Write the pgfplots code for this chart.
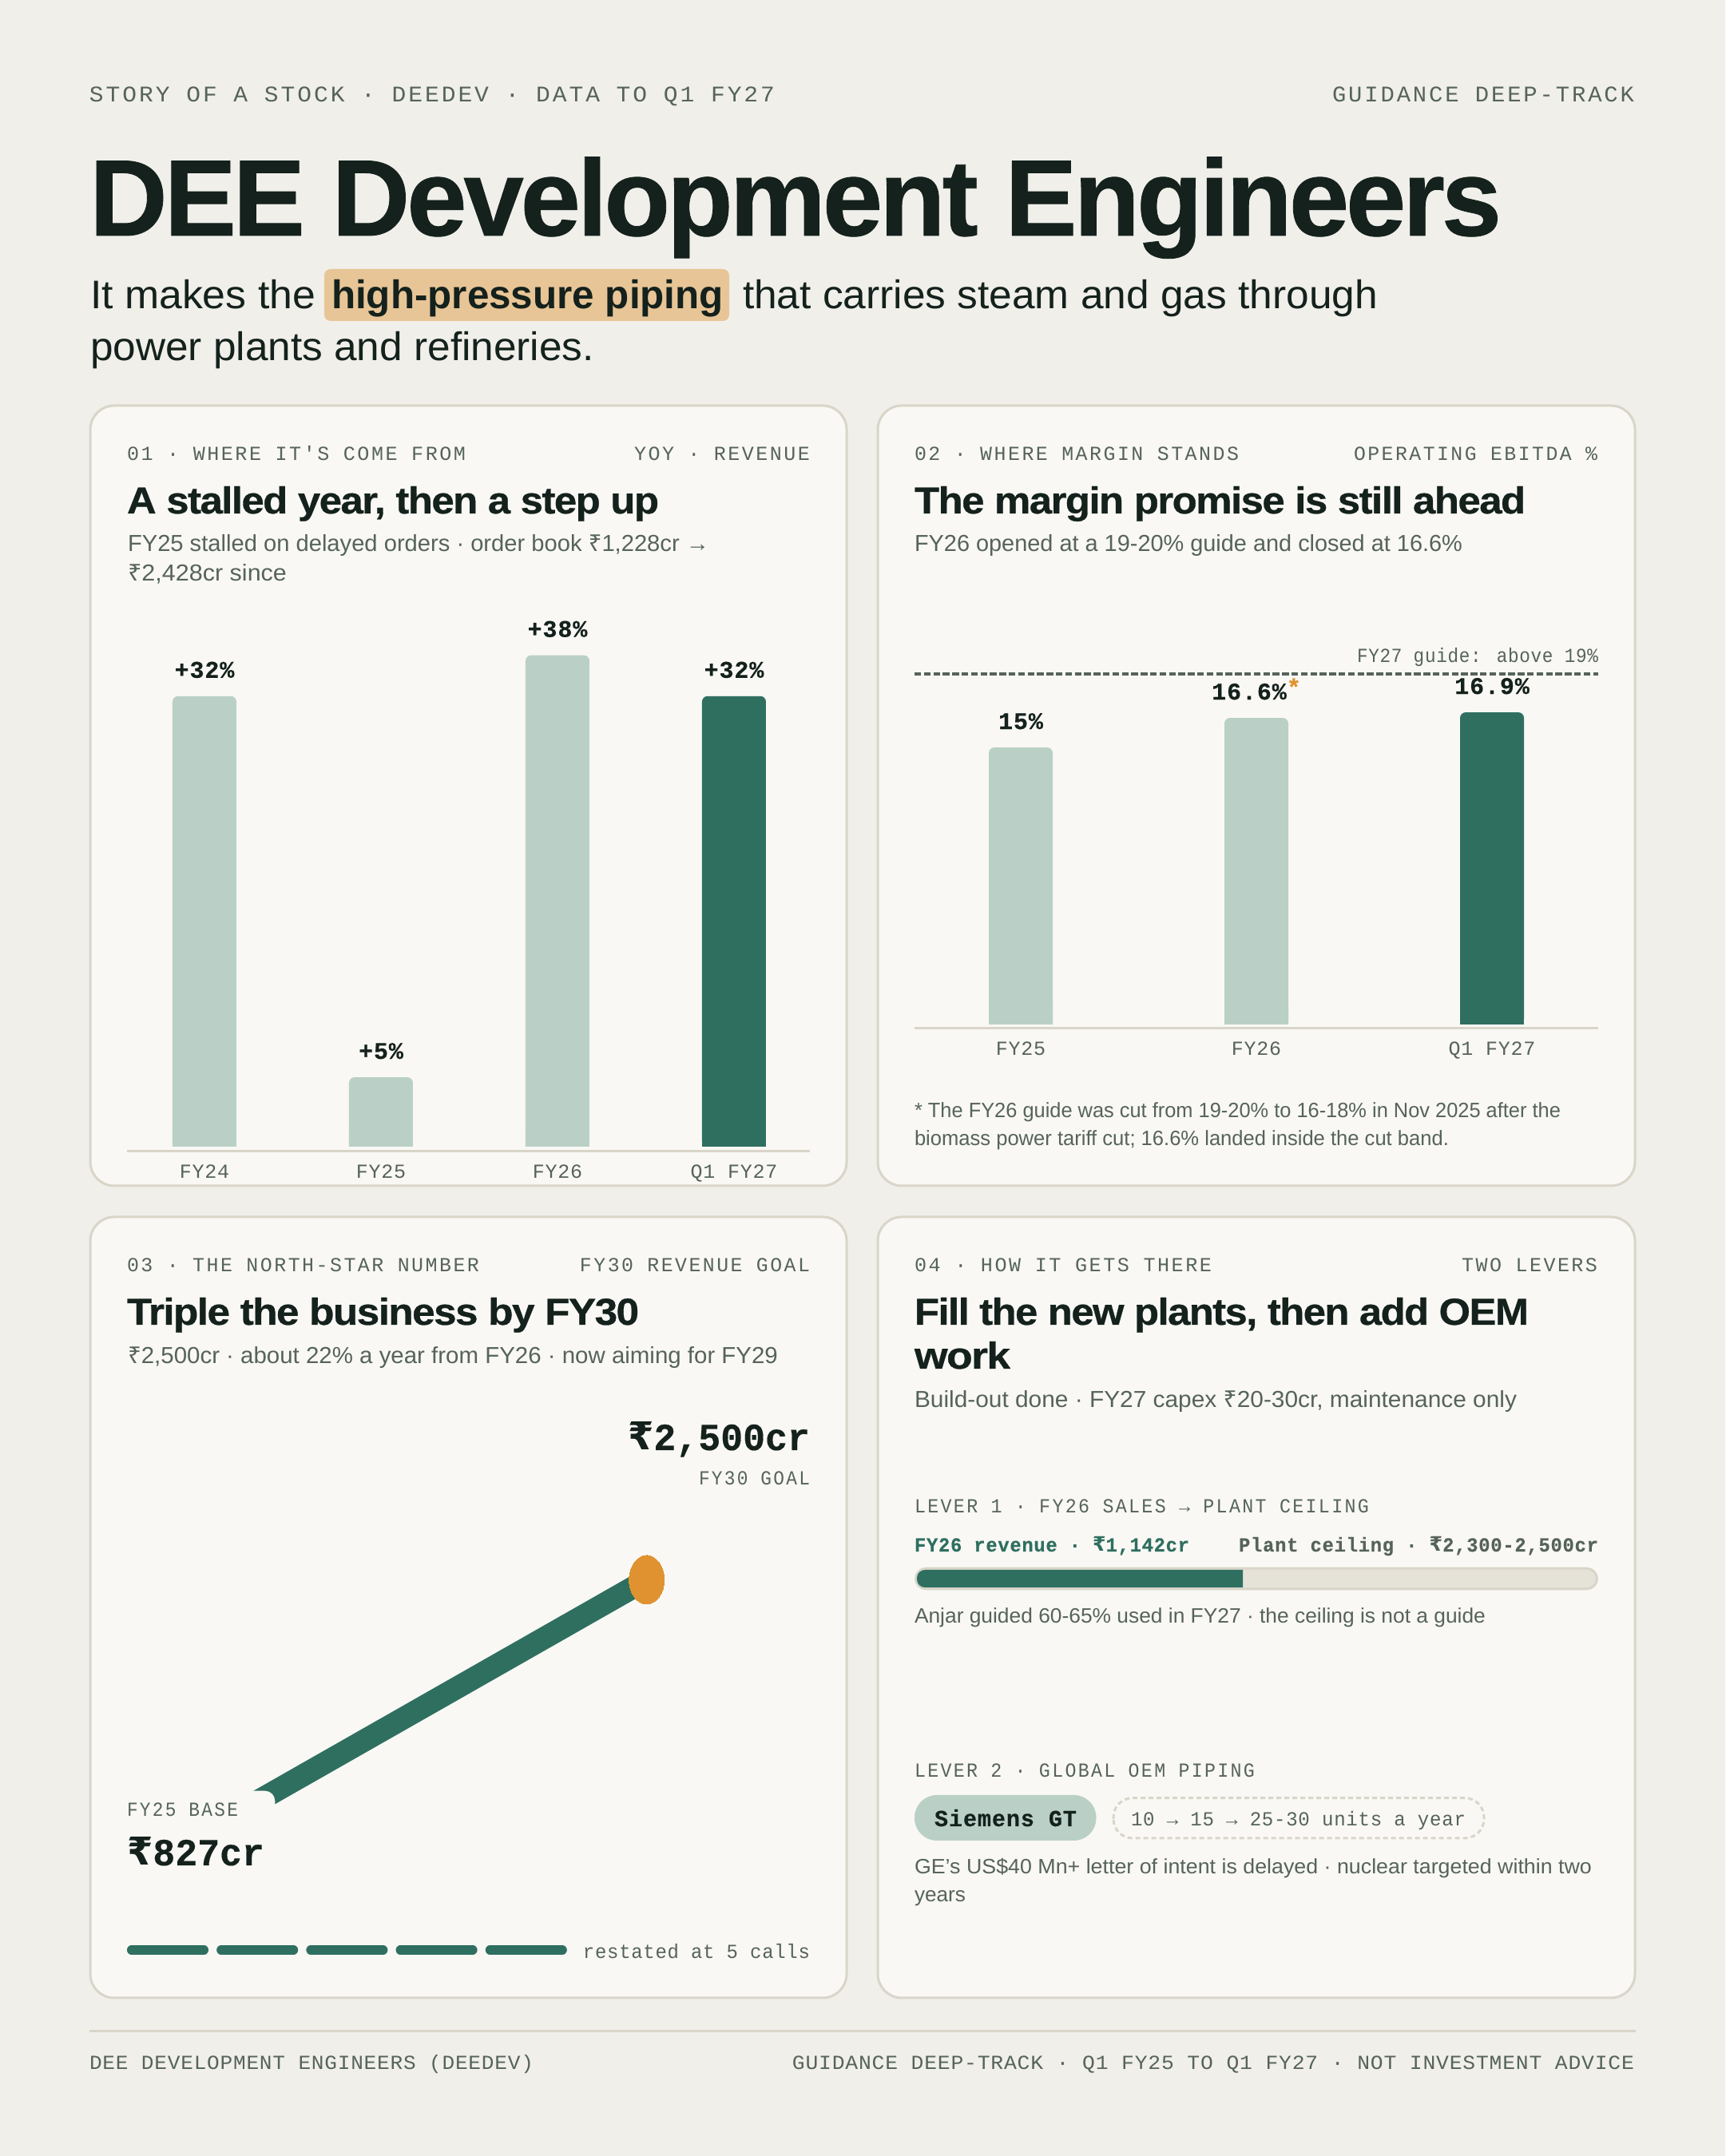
\documentclass[border=0pt]{standalone}
\usepackage{fontspec}
\usepackage{graphicx}
\usepackage{pgfplots}
\pgfplotsset{compat=1.18}
\setmainfont{Liberation Sans}
\newfontfamily\mn[BoldFeatures={FakeBold=0.3}]{Liberation Mono}
\newfontfamily\mnls[LetterSpace=10]{Liberation Mono}
\newfontfamily\mnlt[LetterSpace=3,BoldFeatures={FakeBold=0.3}]{Liberation Mono}
\newfontfamily\ttl[LetterSpace=-3,BoldFeatures={FakeBold=0.6}]{Liberation Sans}
\newfontfamily\rpf{Noto Sans}
\newfontfamily\rpfb{DejaVu Sans}
\newcommand\rs{{\rpf ₹}}
\newcommand\rsb{{\rpfb\bfseries ₹}}
\definecolor{bg}{HTML}{F0EFEA}
\definecolor{card}{HTML}{F9F8F4}
\definecolor{bord}{HTML}{D9D5C9}
\definecolor{ink}{HTML}{14211D}
\definecolor{gry}{HTML}{56635C}
\definecolor{lite}{HTML}{BAD0C7}
\definecolor{deep}{HTML}{2F6F60}
\definecolor{amber}{HTML}{E09230}
\definecolor{hl}{HTML}{E8C596}
\definecolor{trk}{HTML}{E5E3D8}
\newcommand\fs[1]{\fontsize{#1}{#1}\selectfont}
\newcommand\T[7][base west]{\node[anchor=#1,inner sep=0pt,outer sep=0pt,text=#5] at ({#2*0.5pt},{(2700-#3)*0.5pt}) {#4\resizebox{\dimexpr#6pt/2\relax}{\height}{#7}};}
\newcommand\hd{\mnls\fs{12.5pt}}
\newcommand\cardt{\ttl\bfseries\fs{23.5pt}}
\newcommand\sub{\rmfamily\fs{14.5pt}}
\newcommand\nt{\rmfamily\fs{13pt}}
\newcommand\lb{\mnlt\bfseries\fs{15pt}}
\newcommand\cardbox[4]{\draw[fill=card,draw=bord,line width=1.5pt,rounded corners=15pt] ({#1*0.5pt},{(2700-#2)*0.5pt}) rectangle ({#3*0.5pt},{(2700-#4)*0.5pt});}
\newcommand\st{\textcolor{amber}{\raisebox{2.5pt}{\fs{15pt}*}}}
\pgfplotsset{
  barchart/.style={scale only axis,clip=false,axis x line=bottom,axis y line=none,
    axis line style={-,draw=bord,line width=1.5pt},
    major tick length=0pt,tick style={draw=none},
    xticklabel style={font=\mnlt\fs{12.5pt},text=gry,anchor=base,yshift=-17pt},
    ytick=\empty},
  topbar/.style={ybar,bar width=40pt,bar shift=0pt,draw=none,fill=#1,
    rounded corners=3.5pt,
    nodes near coords={\lb\pgfplotspointmeta},
    point meta=explicit symbolic,
    every node near coord/.style={anchor=base,yshift=11.5pt,text=ink,inner sep=0pt,sharp corners}},
  % Not data: a short square-cornered foot, value 1 on every bar, that squares off
  % the lower corners of the rounded bars. It sits inside each bar and shows nowhere.
  foot/.style={ybar,bar width=40pt,bar shift=0pt,draw=none,fill=#1,forget plot},
}
\begin{document}
\begin{tikzpicture}
\useasboundingbox (0pt,0pt) rectangle (1080pt,1350pt);
\fill[bg] (0pt,0pt) rectangle (1080pt,1350pt);
% masthead
\T{112}{128}{\mnls\fs{14pt}}{gry}{858}{STORY OF A STOCK · DEEDEV · DATA TO Q1 FY27}
\T[base east]{2046}{128}{\mnls\fs{14pt}}{gry}{378}{GUIDANCE DEEP-TRACK}
\T{112}{295}{\ttl\bfseries\fs{68pt}}{ink}{1768}{DEE Development Engineers}
\fill[hl,rounded corners=4pt] ({406*0.5pt},{(2700-402)*0.5pt}) rectangle ({913*0.5pt},{(2700-337)*0.5pt});
\T{113}{387}{\rmfamily\fs{25pt}}{ink}{282}{It makes the}
\T{415}{387}{\rmfamily\bfseries\fs{25pt}}{ink}{491}{high-pressure piping}
\T{930}{387}{\rmfamily\fs{25pt}}{ink}{795}{that carries steam and gas through}
\T{113}{452}{\rmfamily\fs{25pt}}{ink}{631}{power plants and refineries.}
% cards
\cardbox{113}{508}{1060}{1485}
\cardbox{1099}{508}{2047}{1485}
\cardbox{113}{1524}{1060}{2502}
\cardbox{1099}{1524}{2047}{2502}
% card 1
\T{159}{576.5}{\hd}{gry}{424}{01 · WHERE IT'S COME FROM}
\T[base east]{1014}{576.5}{\hd}{gry}{220}{YOY · REVENUE}
\T{159}{643}{\cardt}{ink}{666}{A stalled year, then a step up}
\T{160}{691}{\sub}{gry}{728}{FY25 stalled on delayed orders · order book \rs1,228cr →}
\T{160}{728}{\sub}{gry}{199}{\rs2,428cr since}
% Heights are read from the reference, where the bars are not all proportional to their
% labels: +32% and +5% share one scale, but the bar labelled +38% reaches only 34.9 on it.
% The label stays +38% as printed; the height stays as drawn.
\begin{axis}[barchart,at={(79.5pt,629pt)},anchor=south west,width=427.5pt,height=338pt,
  xmin=-0.4389,xmax=3.43,ymin=-0.34,ymax=38,
  xtick={0,1,2,3},xticklabels={FY24,FY25,FY26,Q1 FY27}]
\addplot[topbar=lite] coordinates {(0,32) [+32\%] (1,4.93) [+5\%] (2,34.9) [+38\%]};
\addplot[topbar=deep] coordinates {(3,32) [+32\%]};
\addplot[foot=lite] coordinates {(0,1) (1,1) (2,1)};
\addplot[foot=deep] coordinates {(3,1)};
\end{axis}
% card 2
\T{1145}{576.5}{\hd}{gry}{406}{02 · WHERE MARGIN STANDS}
\T[base east]{2000}{576.5}{\hd}{gry}{305}{OPERATING EBITDA \%}
\T{1145}{643}{\cardt}{ink}{765}{The margin promise is still ahead}
\T{1145}{691}{\sub}{gry}{686}{FY26 opened at a 19-20\% guide and closed at 16.6\%}
\T[base east]{2001}{830}{\mnlt\fs{12.5pt}}{gry}{302}{FY27 guide: above 19\%}
\begin{axis}[barchart,at={(572.5pt,706pt)},anchor=south west,width=428pt,height=233.8pt,
  xmin=-0.4508,xmax=2.4508,ymin=-0.216,ymax=20,
  xtick={0,1,2},xticklabels={FY25,FY26,Q1 FY27}]
\addplot[topbar=lite] coordinates {(0,15) [15\%] (1,16.6) [16.6\%\st]};
\addplot[topbar=deep] coordinates {(2,16.9) [16.9\%]};
\addplot[foot=lite] coordinates {(0,1) (1,1)};
\addplot[foot=deep] coordinates {(2,1)};
\addplot[draw=gry,line width=2pt,dash pattern=on 4.2pt off 1.7pt] coordinates {(-0.4508,19) (2.4508,19)};
\end{axis}
\T{1145}{1400}{\nt}{gry}{809}{* The FY26 guide was cut from 19-20\% to 16-18\% in Nov 2025 after the}
\T{1145}{1435}{\nt}{gry}{669}{biomass power tariff cut; 16.6\% landed inside the cut band.}
% card 3
\T{159}{1593}{\hd}{gry}{441}{03 · THE NORTH-STAR NUMBER}
\T[base east]{1014}{1593}{\hd}{gry}{288}{FY30 REVENUE GOAL}
\T{159}{1659}{\cardt}{ink}{641}{Triple the business by FY30}
\T{160}{1707.7}{\sub}{gry}{814}{\rs2,500cr · about 22\% a year from FY26 · now aiming for FY29}
\T[base east]{1014}{1816}{\mn\bfseries\fs{24pt}}{ink}{228}{\rsb2,500cr}
\T[base east]{1014}{1859.5}{\hd}{gry}{139}{FY30 GOAL}
\begin{axis}[hide axis,scale only axis,clip=false,at={(150pt,215.7pt)},anchor=south west,
  width=254.85pt,height=145.15pt,xmin=2025,xmax=2030,ymin=827,ymax=2500]
\addplot[draw=deep,line width=13.9pt,mark=*,mark indices={2},
  mark options={draw=amber,fill=amber,line width=0pt,yscale=1.386},mark size=11pt]
  coordinates {(2025,827) (2030,2500)};
\end{axis}
\fill[card,rounded corners=6.3pt] ({159*0.5pt},{(2700-2350)*0.5pt}) rectangle ({344.3*0.5pt},{(2700-2242.7)*0.5pt});
\T{159}{2275}{\hd}{gry}{139}{FY25 BASE}
\T{159}{2336}{\mn\bfseries\fs{24pt}}{ink}{172}{\rsb827cr}
\begin{axis}[hide axis,scale only axis,clip=false,at={(79.5pt,128.5pt)},anchor=south west,
  width=275.5pt,height=1pt,xmin=0,xmax=4.911,ymin=-1,ymax=1]
\addplot[draw=deep,line width=5.75pt,line cap=round] coordinates {(0.051,0) (0.858,0)};
\addplot[draw=deep,line width=5.75pt,line cap=round] coordinates {(1.051,0) (1.858,0)};
\addplot[draw=deep,line width=5.75pt,line cap=round] coordinates {(2.051,0) (2.858,0)};
\addplot[draw=deep,line width=5.75pt,line cap=round] coordinates {(3.051,0) (3.858,0)};
\addplot[draw=deep,line width=5.75pt,line cap=round] coordinates {(4.051,0) (4.858,0)};
\end{axis}
\T[base east]{1014}{2453}{\mnlt\fs{12.5pt}}{gry}{284}{restated at 5 calls}
% card 4
\T{1145}{1593}{\hd}{gry}{372}{04 · HOW IT GETS THERE}
\T[base east]{2000}{1593}{\hd}{gry}{170}{TWO LEVERS}
\T{1145}{1659}{\cardt}{ink}{769}{Fill the new plants, then add OEM}
\T{1145}{1714}{\cardt}{ink}{120}{work}
\T{1145}{1762.5}{\sub}{gry}{754}{Build-out done · FY27 capex \rs20-30cr, maintenance only}
\T{1145}{1895}{\hd}{gry}{569}{LEVER 1 · FY26 SALES → PLANT CEILING}
\T{1145}{1943}{\mnlt\bfseries\fs{12.5pt}}{deep}{344}{FY26 revenue · \rsb1,142cr}
\T[base east]{2001}{1943}{\mnlt\bfseries\fs{12.5pt}}{gry}{450}{Plant ceiling · \rsb2,300-2,500cr}
\draw[fill=trk,draw=bord,line width=1.5pt,rounded corners=6.5pt] ({1146.5*0.5pt},{(2700-1989.8)*0.5pt}) rectangle ({1999.5*0.5pt},{(2700-1964.2)*0.5pt});
% xmax 2379 is the scale at which 1,142 ends where the reference's fill ends
\begin{axis}[hide axis,scale only axis,clip=false,at={(574pt,356pt)},anchor=south west,
  width=425pt,height=11pt,xmin=0,xmax=2379,ymin=-1,ymax=1]
\addplot[draw=none,fill=deep,rounded corners=5pt] coordinates {(1142,-1) (0,-1) (0,1) (1142,1)};
\end{axis}
\T{1145}{2033}{\nt}{gry}{715}{Anjar guided 60-65\% used in FY27 · the ceiling is not a guide}
\T{1145}{2225.5}{\hd}{gry}{426}{LEVER 2 · GLOBAL OEM PIPING}
\fill[lite,rounded corners=14pt] ({1145*0.5pt},{(2700-2305)*0.5pt}) rectangle ({1372.5*0.5pt},{(2700-2248)*0.5pt});
\T{1170}{2287}{\mnlt\bfseries\fs{14.5pt}}{ink}{178}{Siemens GT}
\draw[draw=bord,line width=1.5pt,dash pattern=on 3pt off 2pt,rounded corners=12pt] ({1394*0.5pt},{(2700-2302)*0.5pt}) rectangle ({1858*0.5pt},{(2700-2251.7)*0.5pt});
\T{1416}{2287}{\mnlt\fs{12.5pt}}{gry}{419}{10 → 15 → 25-30 units a year}
\T{1145}{2346.7}{\nt}{gry}{848}{GE's US\$40 Mn+ letter of intent is delayed · nuclear targeted within two}
\T{1145}{2382}{\nt}{gry}{64}{years}
% footer
\draw[bord,line width=1.5pt] ({112*0.5pt},{(2700-2544)*0.5pt}) -- ({2048*0.5pt},{(2700-2544)*0.5pt});
\T{112}{2592}{\mnlt\fs{12.5pt}}{gry}{556}{DEE DEVELOPMENT ENGINEERS (DEEDEV)}
\T[base east]{2046}{2592}{\mnlt\fs{12.5pt}}{gry}{1054}{GUIDANCE DEEP-TRACK · Q1 FY25 TO Q1 FY27 · NOT INVESTMENT ADVICE}
\end{tikzpicture}
\end{document}
